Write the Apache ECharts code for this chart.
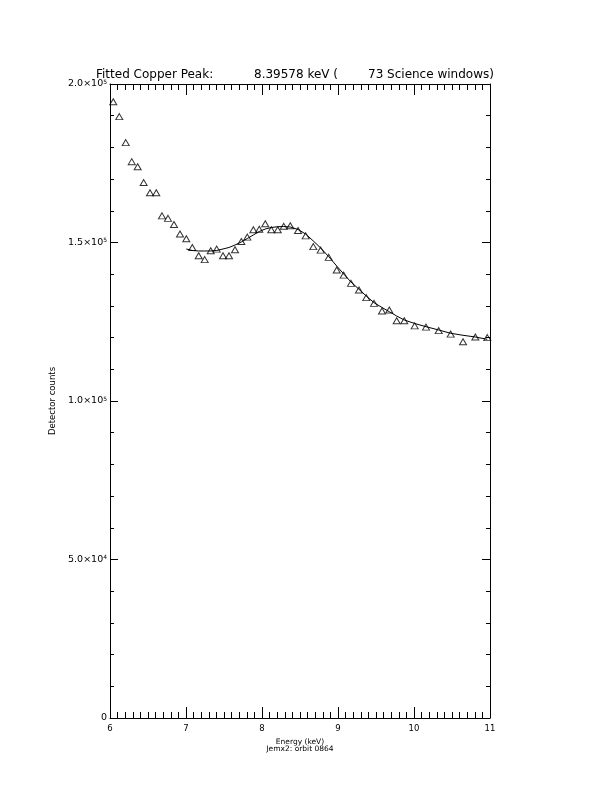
<!DOCTYPE html>
<html>
<head>
<meta charset="utf-8">
<script src="https://cdn.jsdelivr.net/npm/echarts@6/dist/echarts.min.js"></script>
<style>
html,body{margin:0;padding:0;background:#fff;}
#main{width:612px;height:792px;}
</style>
</head>
<body>
<div id="main"></div>
<script>
// Energy (keV) of each measured point
const energy = [6.043, 6.122, 6.207, 6.286, 6.364, 6.443, 6.526, 6.609, 6.684, 6.763,
  6.842, 6.921, 7.004, 7.083, 7.167, 7.246, 7.325, 7.404, 7.487, 7.566,
  7.645, 7.728, 7.807, 7.886, 7.964, 8.043, 8.122, 8.207, 8.286, 8.372,
  8.474, 8.575, 8.675, 8.772, 8.878, 8.983, 9.075, 9.171, 9.276, 9.372,
  9.474, 9.579, 9.675, 9.772, 9.872, 10.009, 10.158, 10.325, 10.483, 10.645,
  10.807, 10.964];
// Detector counts (triangles)
const counts = [194400, 189700, 181500, 175500, 173900, 168900, 165700, 165700, 158400, 157600,
  155700, 152700, 151200, 148400, 145800, 144600, 147400, 147900, 145800, 145800,
  147700, 150300, 151700, 154000, 154200, 155900, 154000, 154000, 155100, 155300,
  153800, 152100, 148700, 147600, 145300, 141300, 139700, 137100, 135000, 132600,
  130800, 128400, 128700, 125300, 125300, 123700, 123300, 122200, 121100, 118700,
  120200, 120000];
// Fitted model, starting at energy index 12 (7.0 keV)
const fitStart = 12;
const fitCounts = [147950, 147480, 147320, 147320, 147320, 147480, 147950, 148430, 149210, 150160,
  151260, 152370, 153470, 154260, 154730, 154980, 155040, 154890, 154100, 152680,
  150480, 148270, 145530, 142590, 140060, 137540, 135240, 133120, 131010, 129500,
  128170, 126810, 125550, 124450, 123440, 122400, 121360, 120730, 120190, 119460];
// Tick labels
const xTickLabels = ['6', '7', '8', '9', '10', '11'];
const yTickMantissa = ['0', '5.0', '1.0', '1.5', '2.0'];
const yTickExponent = ['', '4', '5', '5', '5'];
const titleParts = ['Fitted Copper Peak:', '8.39578 keV (', '73 Science windows)'];
const xTitle = 'Energy (keV)';
const xSubTitle = 'Jemx2: orbit 0864';
const yTitle = 'Detector counts';

const chart = echarts.init(document.getElementById('main'), null, {renderer: 'canvas'});
const FONT = 'DejaVu Sans';

const scatterData = energy.map((e, i) => [e, counts[i]]);
const fitData = fitCounts.map((c, i) => [energy[fitStart + i], c]);

function yLabel(v) {
  const idx = Math.round(v / 50000);
  if (yTickExponent[idx] === '') return '{m|' + yTickMantissa[idx] + '}';
  return '{m|' + yTickMantissa[idx] + '×10}{s|' + yTickExponent[idx] + '}';
}

const axisCommonX = {
  type: 'value', min: 6, max: 11, interval: 1,
  axisLine: {show: true, onZero: false, lineStyle: {color: '#000', width: 1}},
  axisTick: {show: true, inside: true, length: 11, lineStyle: {color: '#000', width: 1}},
  minorTick: {show: true, splitNumber: 10, length: 6, lineStyle: {color: '#000', width: 1}},
  splitLine: {show: false}, minorSplitLine: {show: false}
};
const axisCommonY = {
  type: 'value', min: 0, max: 200000, interval: 50000,
  axisLine: {show: true, onZero: false, lineStyle: {color: '#000', width: 1}},
  axisTick: {show: true, inside: true, length: 8, lineStyle: {color: '#000', width: 1}},
  minorTick: {show: true, splitNumber: 5, length: 4, lineStyle: {color: '#000', width: 1}},
  splitLine: {show: false}, minorSplitLine: {show: false}
};

const titleStyle = {fontFamily: FONT, fontSize: 12, fontWeight: 'normal', color: '#000'};

const option = {
  backgroundColor: '#fff',
  animation: false,
  title: [
    {text: titleParts[0], left: 96, top: 69, padding: 0, textStyle: titleStyle},
    {text: titleParts[1], left: 254, top: 69, padding: 0, textStyle: titleStyle},
    {text: titleParts[2], left: 368, top: 69, padding: 0, textStyle: titleStyle}
  ],
  grid: {left: 110, right: 122, top: 84, bottom: 74, containLabel: false},
  xAxis: [
    Object.assign({}, axisCommonX, {
      position: 'bottom',
      name: xTitle + '\n' + xSubTitle,
      nameLocation: 'middle', nameGap: 14,
      nameTextStyle: {fontFamily: FONT, fontSize: 7.5, lineHeight: 7.5, color: '#000', verticalAlign: 'top'},
      axisLabel: {show: true, margin: 6, fontFamily: FONT, fontSize: 8.5, color: '#000',
        formatter: v => xTickLabels[Math.round(v - 6)]}
    }),
    Object.assign({}, axisCommonX, {position: 'top', axisLabel: {show: false}})
  ],
  yAxis: [
    Object.assign({}, axisCommonY, {
      position: 'left',
      name: yTitle, nameLocation: 'middle', nameGap: 47, nameRotate: 90,
      nameTextStyle: {fontFamily: FONT, fontSize: 8.5, color: '#000'},
      axisLabel: {show: true, margin: 3, color: '#000', formatter: yLabel,
        rich: {
          m: {fontFamily: FONT, fontSize: 9.5, color: '#000', verticalAlign: 'bottom'},
          s: {fontFamily: FONT, fontSize: 6, color: '#000', verticalAlign: 'bottom', padding: [0, 0, 4, 0]}
        }}
    }),
    Object.assign({}, axisCommonY, {position: 'right', axisLabel: {show: false}})
  ],
  series: [
    {
      type: 'line', data: fitData, xAxisIndex: 0, yAxisIndex: 0,
      showSymbol: false, symbol: 'none', smooth: false,
      lineStyle: {color: '#000', width: 1}, z: 2, silent: true
    },
    {
      type: 'scatter', data: scatterData, xAxisIndex: 0, yAxisIndex: 0,
      symbol: 'triangle', symbolSize: [7, 6],
      itemStyle: {color: 'rgba(0,0,0,0)', borderColor: '#000', borderWidth: 1},
      z: 3, silent: true
    }
  ]
};
chart.setOption(option);
</script>
</body>
</html>
